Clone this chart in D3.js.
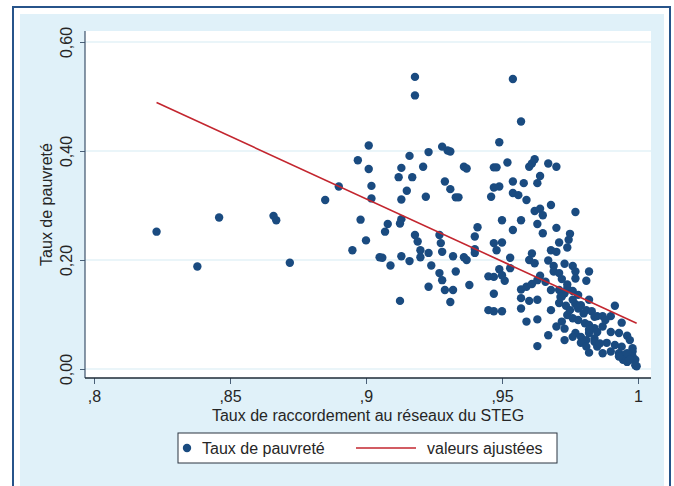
<!DOCTYPE html>
<html>
<head>
<meta charset="utf-8">
<script src="https://cdn.jsdelivr.net/npm/d3@7"></script>
<style>
  body { margin: 0; background: #fff; }
  svg { display: block; font-family: "Liberation Sans", Arial, sans-serif; }
</style>
</head>
<body>
<div id="chart"></div>
<script>
// taux de raccordement STEG (x) / taux de pauvreté (y)
const povX = [
  0.823,0.838,0.846,0.866,0.867,0.872,0.885,0.890,0.895,0.897,
  0.898,0.900,0.901,0.901,0.902,0.902,0.905,0.918,0.918,0.954,
  0.957,0.949,0.916,0.923,0.913,0.912,0.917,0.921,0.915,0.913,
  0.922,0.928,0.930,0.931,0.936,0.937,0.929,0.931,0.933,0.934,
  0.947,0.948,0.952,0.954,0.947,0.949,0.946,0.954,0.956,0.959,
  0.958,0.960,0.961,0.962,0.964,0.963,0.967,0.970,0.968,0.977,
  0.962,0.964,0.965,0.957,0.950,0.963,0.970,0.965,0.954,0.941,
  0.940,0.913,0.9125,0.908,0.907,0.918,0.919,0.927,0.9275,0.928,
  0.920,0.923,0.920,0.906,0.909,0.913,0.916,0.924,0.927,0.928,
  0.929,0.932,0.931,0.923,0.9125,0.933,0.932,0.936,0.937,0.938,
  0.940,0.940,0.947,0.950,0.948,0.953,0.945,0.947,0.949,0.951,
  0.950,0.953,0.947,0.945,0.947,0.950,0.957,0.960,0.963,0.957,
  0.959,0.963,0.963,0.959,0.961,0.963,0.961,0.960,0.962,0.964,
  0.969,0.967,0.968,0.970,0.971,0.975,0.9745,0.974,0.968,0.967,
  0.970,0.973,0.973,0.969,0.971,0.957,0.966,0.973,0.976,0.977,
  0.982,0.977,0.981,0.972,0.974,0.974,0.976,0.971,0.973,0.978,
  0.982,0.9915,0.972,0.9735,0.971,0.977,0.978,0.981,0.983,0.985,
  0.987,0.990,0.974,0.976,0.978,0.9805,0.994,0.972,0.982,0.984,
  0.985,0.987,0.990,0.977,0.979,0.981,0.982,0.984,0.993,0.996,
  0.997,0.9885,0.9915,0.994,0.979,0.981,0.985,0.998,0.998,0.982,
  0.987,0.990,0.993,0.995,0.9945,0.996,0.998,0.999,0.9995,0.976,
  0.979,0.975,0.980,0.984,0.988,0.982,0.976,0.984,0.986,0.996,
  0.997,0.999,0.993,0.9715,0.968
];
const povY = [
  0.252,0.188,0.278,0.281,0.273,0.195,0.310,0.335,0.218,0.383,
  0.274,0.236,0.410,0.367,0.336,0.313,0.205,0.536,0.502,0.532,
  0.454,0.416,0.391,0.398,0.369,0.352,0.352,0.371,0.327,0.311,
  0.316,0.408,0.401,0.399,0.371,0.368,0.344,0.330,0.315,0.315,
  0.370,0.370,0.379,0.344,0.333,0.335,0.316,0.323,0.319,0.310,
  0.341,0.371,0.377,0.385,0.354,0.341,0.377,0.371,0.301,0.288,
  0.290,0.294,0.282,0.273,0.273,0.266,0.259,0.249,0.255,0.260,
  0.243,0.275,0.267,0.266,0.252,0.246,0.234,0.246,0.231,0.215,
  0.218,0.213,0.205,0.204,0.190,0.207,0.198,0.190,0.176,0.163,
  0.145,0.145,0.123,0.151,0.125,0.179,0.207,0.205,0.200,0.154,
  0.213,0.220,0.231,0.232,0.218,0.204,0.170,0.169,0.183,0.162,
  0.172,0.185,0.138,0.108,0.106,0.106,0.130,0.125,0.127,0.111,
  0.087,0.091,0.042,0.151,0.156,0.163,0.212,0.200,0.194,0.171,
  0.189,0.199,0.218,0.215,0.232,0.248,0.237,0.223,0.108,0.062,
  0.078,0.074,0.053,0.179,0.176,0.146,0.160,0.193,0.189,0.179,
  0.179,0.166,0.162,0.165,0.155,0.148,0.143,0.145,0.139,0.136,
  0.127,0.116,0.133,0.116,0.121,0.119,0.111,0.108,0.106,0.097,
  0.097,0.097,0.099,0.093,0.090,0.084,0.085,0.087,0.081,0.075,
  0.068,0.078,0.068,0.066,0.059,0.053,0.066,0.056,0.066,0.061,
  0.053,0.048,0.044,0.041,0.048,0.041,0.041,0.038,0.032,0.030,
  0.029,0.032,0.029,0.026,0.017,0.013,0.023,0.017,0.005,0.127,
  0.117,0.108,0.102,0.096,0.090,0.072,0.059,0.050,0.047,0.029,
  0.017,0.007,0.023,0.132,0.145
];
// fitted values (regression line ends)
const fitX = [0.823, 0.9995];
const fitY = [0.489, 0.084];

const xTicks = [0.8, 0.85, 0.9, 0.95, 1];
const yTicks = [0, 0.2, 0.4, 0.6];
const xTitle = "Taux de raccordement au réseaux du STEG";
const yTitle = "Taux de pauvreté";
const legendLabels = ["Taux de pauvreté", "valeurs ajustées"];

const w = 674, h = 486;
const navy = "#1a4b80", red = "#c3262f";
const plot = { left: 85, right: 651, top: 31, bottom: 378 };

const svg = d3.select("#chart")
              .append("svg")
              .attr("width", w)
              .attr("height", h);

// graph region: frame + light blue fill
svg.append("rect")
   .attr("x", 13).attr("y", 7)
   .attr("width", 657).attr("height", 500)
   .attr("fill", "#fff")
   .attr("stroke", "#27548a")
   .attr("stroke-width", 2);

svg.append("rect")
   .attr("x", 20).attr("y", 14)
   .attr("width", 644).attr("height", 480)
   .attr("fill", "#e0f1f9");

// plot region
svg.append("rect")
   .attr("x", plot.left).attr("y", plot.top)
   .attr("width", plot.right - plot.left).attr("height", plot.bottom - plot.top)
   .attr("fill", "#fff");

const xScale = d3.scaleLinear().domain([0.8, 1.0]).range([94, 638]);
const yScale = d3.scaleLinear().domain([0, 0.6]).range([369, 42]);

// grid
svg.append("g")
   .selectAll("line")
   .data(yTicks)
   .enter()
   .append("line")
   .attr("x1", plot.left).attr("x2", plot.right)
   .attr("y1", d => yScale(d)).attr("y2", d => yScale(d))
   .attr("stroke", "#d6ebf4")
   .attr("stroke-width", 1.2);

// axes
const fmtY = d => d3.format(".2f")(d).replace(".", ",");
const fmtX = d => d === 1 ? "1" : String(d).replace(/^0/, "").replace(".", ",");

const yAxis = d3.axisLeft(yScale).tickValues(yTicks).tickFormat(fmtY).tickSize(5).tickSizeOuter(0);
const gy = svg.append("g")
   .attr("transform", `translate(${plot.left},0)`)
   .call(yAxis);
gy.select(".domain").remove();
gy.selectAll(".tick line").attr("stroke", "#4a6078");
gy.selectAll(".tick text")
  .attr("transform", "rotate(-90)")
  .attr("x", 0).attr("y", -13.5).attr("dy", 0)
  .style("text-anchor", "middle")
  .style("font-size", "16px")
  .attr("fill", "#262626");

const xAxis = d3.axisBottom(xScale).tickValues(xTicks).tickFormat(fmtX).tickSize(6).tickSizeOuter(0);
const gx = svg.append("g")
   .attr("transform", `translate(0,${plot.bottom})`)
   .call(xAxis);
gx.select(".domain").remove();
gx.selectAll(".tick line").attr("stroke", "#4a6078");
gx.selectAll(".tick text")
  .attr("y", 24).attr("dy", 0)
  .style("font-size", "16px")
  .attr("fill", "#262626");

svg.append("line")
   .attr("x1", plot.left).attr("x2", plot.left)
   .attr("y1", plot.top).attr("y2", plot.bottom)
   .attr("stroke", "#3d536b").attr("stroke-width", 1.2);
svg.append("line")
   .attr("x1", plot.left).attr("x2", plot.right)
   .attr("y1", plot.bottom).attr("y2", plot.bottom)
   .attr("stroke", "#1d2a36").attr("stroke-width", 1.5);

// points
svg.append("g")
   .selectAll("circle")
   .data(povX)
   .enter()
   .append("circle")
   .attr("cx", d => xScale(d))
   .attr("cy", (d, i) => yScale(povY[i]))
   .attr("r", 4.2)
   .attr("fill", navy);

// fitted line
const line = d3.line().x(d => xScale(d[0])).y(d => yScale(d[1]));
svg.append("path")
   .datum(fitX.map((d, i) => [d, fitY[i]]))
   .attr("d", line)
   .attr("fill", "none")
   .attr("stroke", red)
   .attr("stroke-width", 1.6);

// titles
svg.append("text")
   .attr("x", (plot.left + plot.right) / 2)
   .attr("y", 420.5)
   .attr("text-anchor", "middle")
   .style("font-size", "16px")
   .attr("fill", "#262626")
   .text(xTitle);

svg.append("text")
   .attr("transform", `translate(51.5,${(plot.top + plot.bottom) / 2}) rotate(-90)`)
   .attr("text-anchor", "middle")
   .style("font-size", "16px")
   .attr("fill", "#262626")
   .text(yTitle);

// legend
const lg = svg.append("g");
lg.append("rect")
  .attr("x", 178).attr("y", 433)
  .attr("width", 379).attr("height", 30)
  .attr("fill", "#fff")
  .attr("stroke", "#2b3440").attr("stroke-width", 1);
lg.append("circle")
  .attr("cx", 187).attr("cy", 448).attr("r", 4.2)
  .attr("fill", navy);
lg.append("text")
  .attr("x", 202).attr("y", 453.5)
  .style("font-size", "16px").attr("fill", "#262626")
  .text(legendLabels[0]);
lg.append("line")
  .attr("x1", 356).attr("x2", 416)
  .attr("y1", 448).attr("y2", 448)
  .attr("stroke", red).attr("stroke-width", 1.6);
lg.append("text")
  .attr("x", 427).attr("y", 453.5)
  .style("font-size", "16px").attr("fill", "#262626")
  .text(legendLabels[1]);
</script>
</body>
</html>
